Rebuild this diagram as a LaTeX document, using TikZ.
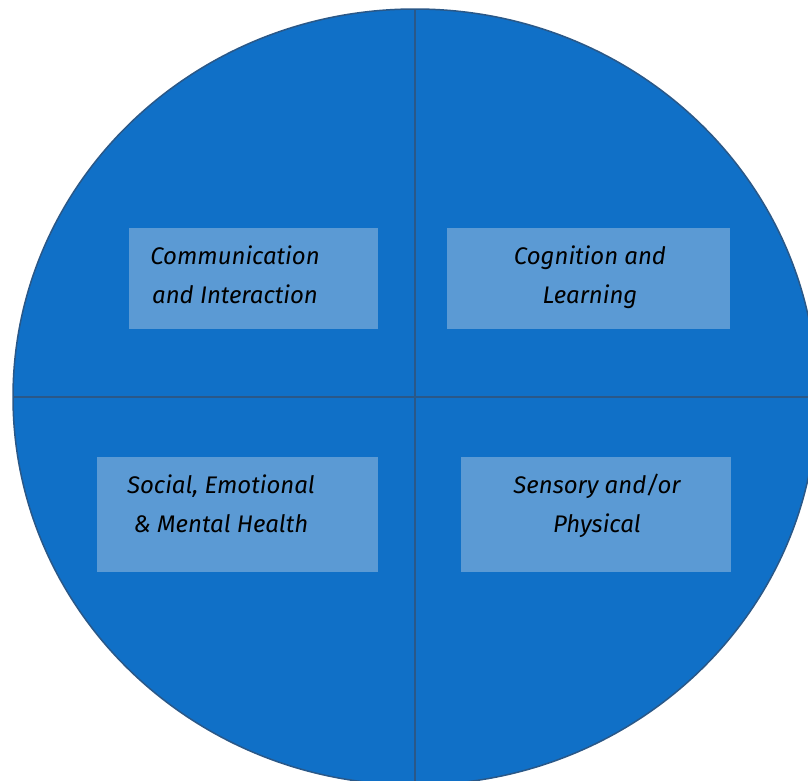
\documentclass[tikz,border=0pt]{standalone}
\usepackage{fontspec}
\setmainfont{Fira Sans}
\usepackage{tikz}

\definecolor{pieblue}{HTML}{1070C7}
\definecolor{edgeblue}{HTML}{2A5888}
\definecolor{boxblue}{HTML}{5B9AD4}

\begin{document}
\begin{tikzpicture}[x=1pt,y=-1pt,
    box/.style={fill=boxblue,inner sep=0pt,anchor=north west},
    lbl/.style={font=\itshape\fontsize{24}{39}\selectfont,align=center,inner sep=0pt}]
  \useasboundingbox (0,0) rectangle (808,780);
  \clip (0,0) rectangle (808,780);

  \draw[edgeblue,line width=1.5pt,fill=pieblue] (415,397) ellipse [x radius=402,y radius=388];

  \coordinate (top) at (415,9);
  \coordinate (bot) at (415,786);
  \coordinate (lft) at (13,397);
  \coordinate (rgt) at (817,397);
  \draw[edgeblue,line width=2pt] (top) -- (bot);
  \draw[edgeblue,line width=2pt] (lft) -- (rgt);

  % the four areas of need
  \node[box,minimum width=249,minimum height=101] (comm) at (129,228) {};
  \node[box,minimum width=283,minimum height=101] (cogn) at (447,228) {};
  \node[box,minimum width=281,minimum height=115] (semh) at (97,457) {};
  \node[box,minimum width=270,minimum height=115] (sens) at (461,457) {};

  \node[lbl] (commtxt) at (235,274.5) {Communication\\and Interaction};
  \node[lbl] (cogntxt) at (590,277) {Cognition and\\Learning};
  \node[lbl] (semhtxt) at (221,503.5) {Social, Emotional\\\& Mental Health};
  \node[lbl] (senstxt) at (597,506) {Sensory and/or\\Physical};
\end{tikzpicture}
\end{document}
